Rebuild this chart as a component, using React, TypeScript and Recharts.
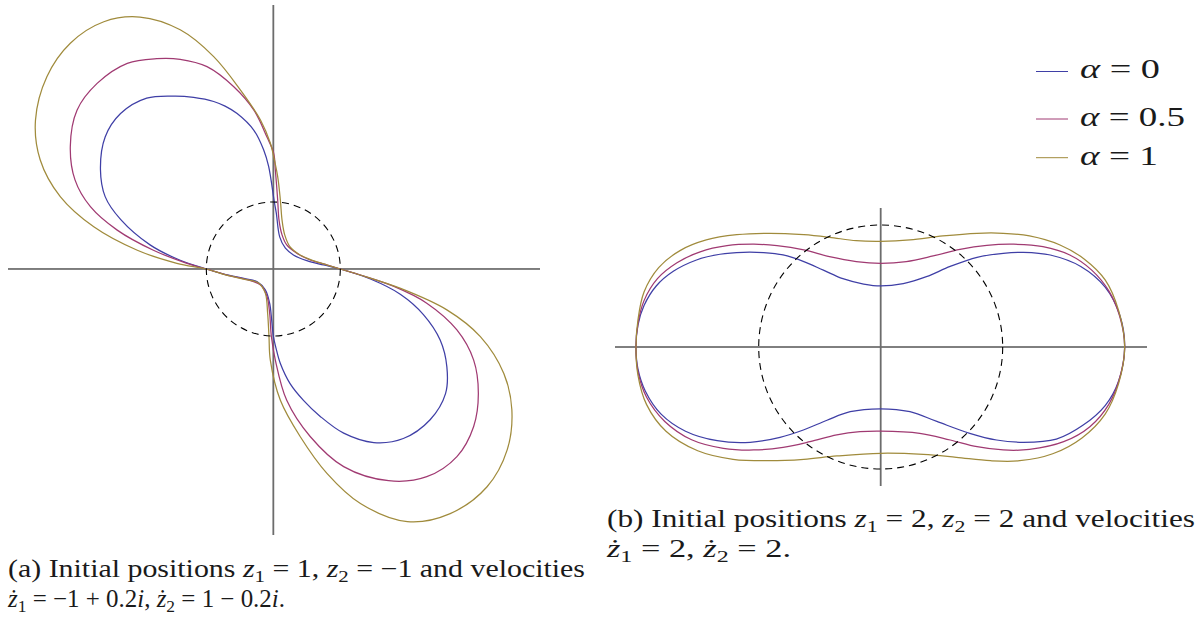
import React from "react";
import { LineChart, Line, XAxis, YAxis, ReferenceLine, ReferenceDot } from "recharts";

// ---------- colours / labels ----------
const seriesNames = ["α = 0", "α = 0.5", "α = 1"];
const seriesColors = ["#3f3fa6", "#a03a72", "#a08b3c"];

// ---------- panel (a): z1 = 1, z2 = -1 (x, y in plane units) ----------
const a_alpha0: [number, number][] = [
  [1.0, 0], [0.75, 0.06], [0.5, 0.124], [0.3, 0.21], [0.18, 0.31], [0.095, 0.48], [0.045, 0.83],
  [0.015, 1.0], [-0.07, 1.53], [-0.145, 1.78], [-0.29, 2.07], [-0.54, 2.32], [-0.72, 2.43],
  [-0.89, 2.5], [-1.19, 2.56], [-1.46, 2.58], [-1.89, 2.55], [-2.28, 2.32], [-2.51, 1.97],
  [-2.58, 1.48], [-2.51, 1.08], [-2.28, 0.74], [-1.84, 0.36], [-1.39, 0.13], [-1.0, 0],
  [-0.74, -0.075], [-0.44, -0.14], [-0.24, -0.19], [-0.12, -0.31], [-0.055, -0.51], [-0.025, -0.76],
  [0.0, -1.0], [0.04, -1.18], [0.105, -1.41], [0.25, -1.71], [0.45, -1.96], [0.7, -2.2],
  [1.05, -2.45], [1.5, -2.59], [1.94, -2.53], [2.34, -2.25], [2.57, -1.86], [2.59, -1.46],
  [2.49, -1.06], [2.24, -0.68], [1.9, -0.38], [1.45, -0.15], [1.0, 0],
];
const a_alpha05: [number, number][] = [
  [1.0, 0], [0.75, 0.075], [0.55, 0.134], [0.35, 0.235], [0.2, 0.36], [0.13, 0.51], [0.085, 0.73],
  [0.065, 1.03], [0.03, 1.48], [0.005, 1.73], [-0.095, 1.97], [-0.29, 2.37], [-0.59, 2.72],
  [-0.99, 3.02], [-1.39, 3.13], [-1.74, 3.14], [-2.18, 3.07], [-2.63, 2.77], [-2.93, 2.37],
  [-3.03, 1.83], [-2.96, 1.33], [-2.73, 0.93], [-2.33, 0.58], [-1.79, 0.28], [-1.29, 0.085],
  [-1.0, 0], [-0.69, -0.09], [-0.39, -0.16], [-0.19, -0.24], [-0.094, -0.41], [-0.055, -0.66],
  [-0.03, -1.0], [0.03, -1.36], [0.2, -1.96], [0.55, -2.5], [1.05, -2.95], [1.72, -3.16],
  [2.29, -3.1], [2.74, -2.8], [2.99, -2.35], [3.06, -1.86], [2.99, -1.36], [2.74, -0.91],
  [2.29, -0.51], [1.8, -0.26], [1.3, -0.09], [1.0, 0],
];
const a_alpha1: [number, number][] = [
  [1.0, 0], [0.8, 0.06], [0.6, 0.124], [0.4, 0.21], [0.25, 0.33], [0.17, 0.51], [0.13, 0.73],
  [0.105, 1.03], [0.065, 1.38], [0.0, 1.7], [-0.045, 1.88], [-0.19, 2.22], [-0.49, 2.67],
  [-0.89, 3.17], [-1.39, 3.57], [-1.99, 3.76], [-2.53, 3.69], [-3.03, 3.37], [-3.38, 2.87],
  [-3.55, 2.22], [-3.48, 1.63], [-3.18, 1.08], [-2.68, 0.63], [-2.03, 0.28], [-1.44, 0.085],
  [-1.0, 0], [-0.74, -0.08], [-0.44, -0.15], [-0.22, -0.21], [-0.12, -0.36], [-0.085, -0.66],
  [-0.065, -1.0], [-0.045, -1.36], [0.105, -1.96], [0.4, -2.5], [0.8, -3.05], [1.3, -3.5],
  [2.0, -3.77], [2.64, -3.65], [3.19, -3.25], [3.49, -2.7], [3.56, -2.1], [3.44, -1.56],
  [3.09, -1.01], [2.59, -0.61], [1.9, -0.29], [1.3, -0.09], [1.0, 0],
];

// ---------- panel (b): z1 = 2, z2 = 2 ----------
const b_alpha0: [number, number][] = [
  [-0.63, 0.7], [-0.8, 0.754], [-0.96, 0.773], [-1.126, 0.776], [-1.317, 0.76], [-1.51, 0.713],
  [-1.7, 0.62], [-1.84, 0.5], [-1.94, 0.34], [-1.99, 0.18], [-2.006, 0], [-1.99, -0.18],
  [-1.93, -0.36], [-1.8, -0.55], [-1.6, -0.69], [-1.34, -0.768], [-1.07, -0.781], [-0.825, -0.74],
  [-0.634, -0.68], [-0.44, -0.6], [-0.25, -0.53], [0, -0.506], [0.24, -0.53], [0.46, -0.61],
  [0.73, -0.707], [0.95, -0.762], [1.17, -0.781], [1.44, -0.755], [1.66, -0.64], [1.84, -0.48],
  [1.95, -0.28], [2.0, 0], [1.96, 0.26], [1.84, 0.49], [1.64, 0.66], [1.39, 0.754], [1.17, 0.776],
  [1.005, 0.768], [0.79, 0.735], [0.57, 0.66], [0.375, 0.576], [0.185, 0.52], [0, 0.5],
  [-0.14, 0.516], [-0.31, 0.56], [-0.47, 0.63], [-0.63, 0.7],
];
const b_alpha05: [number, number][] = [
  [-0.63, 0.795], [-0.85, 0.83], [-1.04, 0.842], [-1.26, 0.83], [-1.48, 0.78], [-1.67, 0.69],
  [-1.83, 0.56], [-1.94, 0.38], [-1.99, 0.19], [-2.006, 0], [-1.99, -0.2], [-1.92, -0.41],
  [-1.77, -0.61], [-1.55, -0.76], [-1.29, -0.83], [-1.04, -0.844], [-0.8, -0.822], [-0.58, -0.776],
  [-0.36, -0.72], [-0.17, -0.694], [0, -0.689], [0.32, -0.707], [0.57, -0.762], [0.79, -0.817],
  [1.005, -0.844], [1.22, -0.839], [1.5, -0.776], [1.715, -0.653], [1.87, -0.47], [1.96, -0.25],
  [2.0, 0], [1.96, 0.25], [1.87, 0.46], [1.73, 0.63], [1.55, 0.754], [1.33, 0.822], [1.09, 0.842],
  [0.87, 0.833], [0.65, 0.8], [0.43, 0.746], [0.21, 0.7], [0, 0.686], [-0.2, 0.7], [-0.42, 0.74],
  [-0.63, 0.795],
];
const b_alpha1: [number, number][] = [
  [-0.63, 0.92], [-0.91, 0.932], [-1.18, 0.92], [-1.43, 0.877], [-1.645, 0.79], [-1.82, 0.65],
  [-1.94, 0.45], [-1.99, 0.22], [-2.006, 0], [-1.99, -0.23], [-1.92, -0.47], [-1.76, -0.69],
  [-1.5, -0.85], [-1.21, -0.92], [-0.91, -0.932], [-0.63, -0.92], [-0.36, -0.893], [0, -0.871],
  [0.35, -0.88], [0.62, -0.904], [0.9, -0.932], [1.14, -0.932], [1.41, -0.875], [1.65, -0.745],
  [1.84, -0.55], [1.95, -0.3], [2.0, 0], [1.95, 0.3], [1.84, 0.55], [1.67, 0.72], [1.47, 0.836],
  [1.22, 0.91], [1.005, 0.932], [0.79, 0.932], [0.51, 0.91], [0.24, 0.877], [0, 0.866],
  [-0.2, 0.871], [-0.42, 0.899], [-0.63, 0.92],
];

// unit circle radius (plane units) drawn dashed in both panels
const circleRadius = 1;

const toPts = (arr: [number, number][]) => arr.map(([x, y]) => ({ x, y }));

const panelA = [a_alpha0, a_alpha05, a_alpha1];
const panelB = [b_alpha0, b_alpha05, b_alpha1];

// Centripetal Catmull-Rom curve factory (d3 curve interface) used as the Line "type";
// closes smoothly when the first and last points coincide.
function smoothClosedCurve(context: any) {
  let pts: number[][] = [];
  const A = 0.5;
  return {
    areaStart() {},
    areaEnd() {},
    lineStart() {
      pts = [];
    },
    point(x: number, y: number) {
      pts.push([+x, +y]);
    },
    lineEnd() {
      const n = pts.length;
      if (!n) return;
      context.moveTo(pts[0][0], pts[0][1]);
      if (n < 3) {
        for (let i = 1; i < n; i++) context.lineTo(pts[i][0], pts[i][1]);
        return;
      }
      const closed =
        Math.abs(pts[0][0] - pts[n - 1][0]) < 1e-6 && Math.abs(pts[0][1] - pts[n - 1][1]) < 1e-6;
      const d = (p: number[], q: number[]) => Math.hypot(p[0] - q[0], p[1] - q[1]);
      for (let i = 0; i < n - 1; i++) {
        const p1 = pts[i];
        const p2 = pts[i + 1];
        const p0 = i > 0 ? pts[i - 1] : closed ? pts[n - 2] : p1;
        const p3 = i + 2 < n ? pts[i + 2] : closed ? pts[1] : p2;
        const l01 = d(p0, p1), l12 = d(p1, p2), l23 = d(p2, p3);
        const l01a = Math.pow(l01, A), l01_2a = Math.pow(l01, 2 * A);
        const l12a = Math.pow(l12, A), l12_2a = Math.pow(l12, 2 * A);
        const l23a = Math.pow(l23, A), l23_2a = Math.pow(l23, 2 * A);
        let c1x = p1[0], c1y = p1[1], c2x = p2[0], c2y = p2[1];
        if (l01a > 1e-9) {
          const a = 2 * l01_2a + 3 * l01a * l12a + l12_2a;
          const nn = 3 * l01a * (l01a + l12a);
          c1x = (p1[0] * a - p0[0] * l12_2a + p2[0] * l01_2a) / nn;
          c1y = (p1[1] * a - p0[1] * l12_2a + p2[1] * l01_2a) / nn;
        }
        if (l23a > 1e-9) {
          const b = 2 * l23_2a + 3 * l23a * l12a + l12_2a;
          const m = 3 * l23a * (l23a + l12a);
          c2x = (p2[0] * b + p1[0] * l23_2a - p3[0] * l12_2a) / m;
          c2y = (p2[1] * b + p1[1] * l23_2a - p3[1] * l12_2a) / m;
        }
        context.bezierCurveTo(c1x, c1y, c2x, c2y, p2[0], p2[1]);
      }
    },
  };
}

type PanelProps = {
  left: number;
  top: number;
  width: number;
  height: number;
  xDomain: [number, number];
  yDomain: [number, number];
  curves: [number, number][][];
};

function Panel({ left, top, width, height, xDomain, yDomain, curves }: PanelProps) {
  const pxPerUnit = width / (xDomain[1] - xDomain[0]);
  return (
    <div style={{ position: "absolute", left, top, width, height }}>
      <LineChart width={width} height={height} margin={{ top: 0, right: 0, bottom: 0, left: 0 }}>
        <XAxis type="number" dataKey="x" domain={xDomain} allowDataOverflow hide />
        <YAxis type="number" dataKey="y" domain={yDomain} allowDataOverflow hide />
        <ReferenceLine y={0} stroke="#000" strokeWidth={1} />
        <ReferenceLine x={0} stroke="#6c6c6c" strokeWidth={1.8} />
        <ReferenceDot
          x={0}
          y={0}
          r={circleRadius * pxPerUnit}
          fill="none"
          stroke="#000"
          strokeWidth={1.1}
          strokeDasharray="7 5"
        />
        {curves.map((c, i) => (
          <Line
            key={i}
            data={toPts(c)}
            dataKey="y"
            type={smoothClosedCurve as any}
            stroke={seriesColors[i]}
            strokeWidth={1.25}
            dot={false}
            activeDot={false}
            isAnimationActive={false}
          />
        ))}
      </LineChart>
    </div>
  );
}

const serif = "Liberation Serif, DejaVu Serif, serif";

export default function App() {
  const legendRows = [
    { lineY: 71.5, baseY: 78, len: 80 },
    { lineY: 119, baseY: 125.5, len: 105 },
    { lineY: 157.7, baseY: 164.5, len: 78 },
  ];
  const subSize = 17.5;
  const textStyle: React.CSSProperties = { whiteSpace: "pre", fontFamily: serif };
  return (
    <div style={{ position: "absolute", left: 0, top: 0, width: 1200, height: 617, background: "#fff" }}>
      <Panel left={8} top={5} width={532} height={530} xDomain={[-3.96, 3.98]} yDomain={[-3.97, 3.94]} curves={panelA} />
      <Panel left={615} top={208} width={532} height={278} xDomain={[-2.178, 2.183]} yDomain={[-1.139, 1.139]} curves={panelB} />
      <svg width={1200} height={617} style={{ position: "absolute", left: 0, top: 0, pointerEvents: "none" }}>
        {legendRows.map((r, i) => (
          <g key={i}>
            <line x1={1036} x2={1068} y1={r.lineY} y2={r.lineY} stroke={seriesColors[i]} strokeWidth={1} />
            <text
              x={1080}
              y={r.baseY}
              fontSize={28}
              fill="#1a1a1a"
              textLength={r.len}
              lengthAdjust="spacingAndGlyphs"
              style={textStyle}
            >
              <tspan fontStyle="italic">α</tspan>
              {seriesNames[i].slice(1)}
            </text>
          </g>
        ))}
        {/* caption (a) */}
        <text x={8} y={577} fontSize={25} fill="#1a1a1a" textLength={577} lengthAdjust="spacingAndGlyphs" style={textStyle}>
          {"(a) Initial positions "}
          <tspan fontStyle="italic">z</tspan>
          <tspan fontSize={subSize} dy={5}>1</tspan>
          <tspan dy={-5}>{" = 1, "}</tspan>
          <tspan fontStyle="italic">z</tspan>
          <tspan fontSize={subSize} dy={5}>2</tspan>
          <tspan dy={-5}>{" = −1 and velocities"}</tspan>
        </text>
        <text x={8} y={607} fontSize={25} fill="#1a1a1a" textLength={277} lengthAdjust="spacingAndGlyphs" style={textStyle}>
          <tspan fontStyle="italic">ż</tspan>
          <tspan fontSize={subSize} dy={5}>1</tspan>
          <tspan dy={-5}>{" = −1 + 0.2"}</tspan>
          <tspan fontStyle="italic">i</tspan>
          {", "}
          <tspan fontStyle="italic">ż</tspan>
          <tspan fontSize={subSize} dy={5}>2</tspan>
          <tspan dy={-5}>{" = 1 − 0.2"}</tspan>
          <tspan fontStyle="italic">i</tspan>
          {"."}
        </text>
        {/* caption (b) */}
        <text x={607} y={527} fontSize={25} fill="#1a1a1a" textLength={588} lengthAdjust="spacingAndGlyphs" style={textStyle}>
          {"(b) Initial positions "}
          <tspan fontStyle="italic">z</tspan>
          <tspan fontSize={subSize} dy={5}>1</tspan>
          <tspan dy={-5}>{" = 2, "}</tspan>
          <tspan fontStyle="italic">z</tspan>
          <tspan fontSize={subSize} dy={5}>2</tspan>
          <tspan dy={-5}>{" = 2 and velocities"}</tspan>
        </text>
        <text x={607} y={557} fontSize={25} fill="#1a1a1a" textLength={184} lengthAdjust="spacingAndGlyphs" style={textStyle}>
          <tspan fontStyle="italic">ż</tspan>
          <tspan fontSize={subSize} dy={5}>1</tspan>
          <tspan dy={-5}>{" = 2, "}</tspan>
          <tspan fontStyle="italic">ż</tspan>
          <tspan fontSize={subSize} dy={5}>2</tspan>
          <tspan dy={-5}>{" = 2."}</tspan>
        </text>
      </svg>
    </div>
  );
}
